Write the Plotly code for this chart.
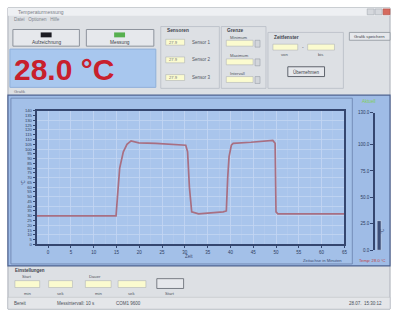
import plotly.graph_objects as go

W, H = 398, 316

# ---- data ----
time_min = [-2.5, 14.9, 15.3, 15.7, 16.5, 17.3, 18.2, 19.9, 23.6, 30.2, 30.6, 31.0, 31.5, 33.0,
            38.4, 39.1, 39.4, 39.7, 40.2, 40.6, 44.5, 49.3, 49.8, 50.0, 50.4, 65.0]
temp_c = [29.9, 29.9, 55.0, 80.0, 97.0, 105.0, 108.5, 106.5, 106.0, 104.0, 97.0, 60.0, 34.0, 31.9,
          34.0, 35.0, 70.0, 92.0, 104.0, 106.0, 107.1, 109.1, 106.0, 34.0, 31.9, 31.9]
x_ticks = [0, 5, 10, 15, 20, 25, 30, 35, 40, 45, 50, 55, 60, 65]
y_ticks = list(range(0, 141, 5))
gauge_ticks = [0, 25, 50, 75, 100, 130]
current_temp = 28.0

def px(x):
    return x / W

def py(y):
    return 1 - y / H

shapes = []
annots = []

def rect(x0, y0, x1, y1, fill, line=None, lw=1):
    shapes.append(dict(type="rect", xref="paper", yref="paper", layer="below",
                       x0=px(x0), x1=px(x1), y0=py(y1), y1=py(y0),
                       fillcolor=fill, line=dict(color=line if line else fill, width=lw if line else 0)))

def txt(x, y, s, size=5, color="#4a4f58", anchor="left", bold=False, angle=0, family="Liberation Sans"):
    annots.append(dict(x=px(x), y=py(y), xref="paper", yref="paper", text=("<b>%s</b>" % s) if bold else s,
                       showarrow=False, xanchor=anchor, yanchor="middle", textangle=angle,
                       font=dict(size=size, color=color, family=family)))

# window
rect(8, 5, 393, 312, "#dde0e4", "#a9aeb6", 1)
rect(8, 5, 393, 13, "#eef0f3")
txt(16, 9, "Temperaturmessung", 5, "#7b8089")
rect(370, 6, 377, 12, "#d5d8dd", "#9aa0a8", 0.5)
rect(378, 6, 385, 12, "#d5d8dd", "#9aa0a8", 0.5)
rect(386, 6, 393, 12, "#d66a5e", "#a9463c", 0.5)
txt(12, 17, "Datei   Optionen   Hilfe", 4.5, "#80858e")

# top controls
rect(13, 27, 80, 44, "#e6e8ec", "#8d939c", 1)
rect(41, 30, 52, 35, "#1b1b22")
txt(46.5, 40, "Aufzeichnung", 4.8, "#3a3f48", "center")
rect(87, 27, 155, 44, "#e6e8ec", "#8d939c", 1)
rect(115, 30, 126, 35, "#57b04f")
txt(121, 40, "Messung", 4.8, "#3a3f48", "center")

rect(10, 47, 157, 86, "#a8c7ee", "#8fb0da", 1)
txt(12, 68, "28.0 °C", 30, "#c8202c", "left", bold=True, family="Liberation Sans")

# sensor group
rect(162, 24, 221, 87, "rgba(0,0,0,0)", "#b8bdc5", 0.8)
txt(166, 28, "Sensoren", 4.8, "#3f444d", bold=True)
for yy, lab in [(40, "Sensor 1"), (58, "Sensor 2"), (76, "Sensor 3")]:
    rect(167, yy - 3, 186, yy + 3, "#fbfbcf", "#a6aab0", 0.5)
    txt(168, yy, "27.9", 4.2, "#70757d")
    txt(191, yy, lab, 4.5, "#50555e")

# limit group
rect(223, 24, 268, 87, "rgba(0,0,0,0)", "#b8bdc5", 0.8)
txt(227, 28, "Grenze", 4.8, "#3f444d", bold=True)
for yy, lab in [(41, "Minimum"), (60, "Maximum"), (78, "Intervall")]:
    txt(230, yy - 6, lab, 4.2, "#50555e")
    rect(228, yy - 3, 255, yy + 3, "#fbfbcf", "#a6aab0", 0.5)
    rect(257, yy - 3, 262, yy + 4, "#d3d6db", "#8d939c", 0.5)

# interval group
rect(270, 30, 346, 87, "rgba(0,0,0,0)", "#b8bdc5", 0.8)
txt(274, 35, "Zeitfenster", 4.8, "#3f444d", bold=True)
rect(275, 42, 300, 48, "#fbfbcf", "#a6aab0", 0.5)
txt(305, 45, "-", 5, "#50555e", "center")
rect(310, 42, 337, 48, "#fbfbcf", "#a6aab0", 0.5)
txt(287, 53, "von", 4.2, "#50555e", "center")
txt(323, 53, "bis", 4.2, "#50555e", "center")
rect(290, 65, 327, 75, "#e6e8ec", "#5e636c", 1)
txt(308.5, 70, "Übernehmen", 4.5, "#3a3f48", "center")
rect(352, 30, 393, 38, "#e6e8ec", "#8d939c", 0.8)
txt(372.5, 34, "Grafik speichern", 4.2, "#3a3f48", "center")

txt(12, 90, "Grafik", 4.2, "#6d727b")

# main blue panel
rect(8, 94, 393, 268, "#9fbce6", "#4d6290", 1.2)
rect(11, 97, 355, 266, "#a3c0e8", "#6a80ab", 0.8)
rect(37, 110, 347, 246, "#a9c5ec")
txt(363, 100, "Aktuell", 4.5, "#7fd05a")
txt(190, 258, "Zeit", 4.5, "#3b4a70", "center")
txt(303, 262, "Zeitachse in Minuten", 4.2, "#3b4a70")
txt(360, 262, "Temp: 28.0 °C", 4.2, "#c0453f")
txt(24, 183, "°C", 4.5, "#3b4a70", "center", angle=-90)
txt(386, 232, "°C", 4.5, "#3b4a70", "center", angle=-90)

# bottom area
txt(13, 273, "Einstellungen", 4.5, "#3f444d", bold=True)
txt(20, 279, "Start", 4.2, "#50555e")
txt(88, 279, "Dauer", 4.2, "#50555e")
for x0, x1, lab in [(15, 40, "min"), (49, 73, "sek"), (86, 112, "min"), (119, 147, "sek")]:
    rect(x0, 283, x1, 290, "#fbfbcf", "#a6aab0", 0.5)
    txt((x0 + x1) / 2, 296, lab, 4.2, "#50555e", "center")
rect(158, 281, 185, 291, "#e6e8ec", "#5e636c", 0.8)
txt(171.5, 296, "Start", 4.2, "#50555e", "center")

rect(8, 300, 393, 312, "#e4e6e9", "#b5bac1", 0.5)
txt(12, 306, "Bereit", 4.5, "#4a4f58")
txt(55, 306, "Messintervall: 10 s", 4.5, "#4a4f58")
txt(115, 306, "COM1 9600", 4.5, "#4a4f58")
txt(350, 306, "28.07.  15:30:12", 4.5, "#4a4f58")

axis_col = "#34466f"
fig = go.Figure()
fig.add_trace(go.Scatter(x=time_min, y=temp_c, mode="lines",
                         line=dict(color="#a86f82", width=1.7), xaxis="x", yaxis="y",
                         showlegend=False, hoverinfo="skip"))
fig.add_trace(go.Scatter(x=[None], y=[None], xaxis="x", yaxis="y3", showlegend=False))
fig.add_trace(go.Bar(x=[0], y=[current_temp], width=[0.5], marker=dict(color="#3d4f7a"),
                     xaxis="x2", yaxis="y2", showlegend=False, hoverinfo="skip"))

fig.update_layout(
    width=W, height=H, margin=dict(l=0, r=0, t=0, b=0),
    paper_bgcolor="white", plot_bgcolor="rgba(0,0,0,0)",
    shapes=shapes, annotations=annots,
    xaxis=dict(domain=[px(37), px(347)], anchor="y", range=[-2.5, 65], tickvals=x_ticks,
               ticktext=[str(v) for v in x_ticks],
               showgrid=True, gridcolor="#c3d6f2", gridwidth=0.8,
               minor=dict(dtick=2.5, showgrid=True, gridcolor="#b8cdee", gridwidth=0.5),
               showline=True, linecolor=axis_col, linewidth=2, mirror=True,
               ticks="outside", ticklen=2, tickcolor=axis_col,
               tickfont=dict(size=4.5, color="#2e3c60", family="Liberation Sans"), zeroline=False),
    yaxis=dict(domain=[py(246), py(110)], anchor="x", range=[0, 140], tickvals=y_ticks,
               showgrid=False, showline=True, linecolor=axis_col, linewidth=2, mirror=True,
               ticks="outside", ticklen=2, tickcolor=axis_col,
               tickfont=dict(size=4.2, color="#2e3c60", family="Liberation Sans"), zeroline=False),
    yaxis3=dict(overlaying="y", anchor="x", range=[0, 140], dtick=10, showgrid=True,
                gridcolor="#c3d6f2", gridwidth=0.8, showticklabels=False, zeroline=False, showline=False),
    xaxis2=dict(domain=[px(378), px(386)], anchor="y2", range=[-0.5, 0.5], visible=False),
    yaxis2=dict(domain=[py(252), py(112)], anchor="x2", range=[0, 130], tickvals=gauge_ticks,
                ticktext=["%.1f" % v for v in gauge_ticks], side="left",
                showgrid=False, showline=True, linecolor=axis_col, linewidth=2,
                ticks="outside", ticklen=3, tickcolor=axis_col,
                tickfont=dict(size=4.5, color="#2e3c60", family="Liberation Sans"), zeroline=False),
    bargap=0,
)

fig.write_html("out.html", config={"displayModeBar": False, "staticPlot": True})

# remove the default page margin so the figure sits at the window's top-left corner
with open("out.html", "r", encoding="utf-8") as f:
    html = f.read()
html = html.replace("<head>", "<head><style>html,body{margin:0;padding:0;overflow:hidden;}</style>", 1)
with open("out.html", "w", encoding="utf-8") as f:
    f.write(html)
